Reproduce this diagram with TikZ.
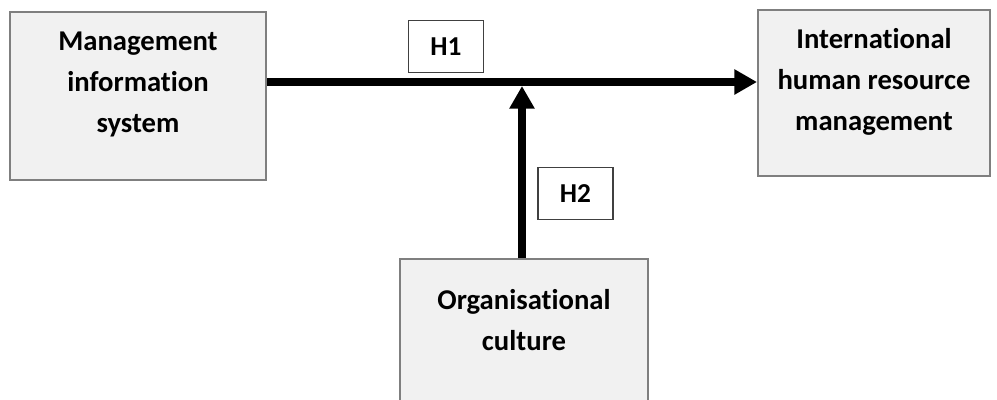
\documentclass[tikz,border=0pt]{standalone}
\usepackage{fontspec}
\setmainfont{Carlito}[Ligatures=NoCommon]
\usepackage{xcolor}
\usetikzlibrary{positioning,arrows.meta}

\definecolor{boxfill}{HTML}{F1F1F1}
\definecolor{boxline}{HTML}{7F7F7F}
\definecolor{hypline}{HTML}{404040}

\begin{document}
\begin{tikzpicture}[x=0.75pt,y=-0.75pt,
  varbox/.style={draw=boxline,line width=1.5pt,fill=boxfill,inner sep=0pt},
  vartext/.style={align=center,inner sep=0pt,font=\fontsize{21.5}{30.75}\selectfont\bfseries},
  hypbox/.style={draw=hypline,line width=1.1pt,fill=white,inner sep=0pt,
    minimum width=56pt,minimum height=39pt,font=\fontsize{20.5}{24}\selectfont\bfseries},
  link/.style={line width=6pt,-{Triangle[length=17pt,width=18pt]}}]
\useasboundingbox (0,0) rectangle (997,400);
% variables
\node [varbox,minimum width=192pt,minimum height=126pt] (mis) at (138,96) {};
\node [varbox,minimum width=174pt,minimum height=124.5pt] (ihrm) at (874,93) {};
\node [varbox,minimum width=186pt,minimum height=107.25pt] (org) at (524,330.5) {};
\node [vartext] (mistext) at (138,84) {Management\\information\\system};
\node [vartext] (ihrmtext) at (874,82) {International\\human resource\\management};
\node [vartext] (orgtext) at (524,320) {Organisational\\culture};
% hypotheses
\node [hypbox] (h1) at (446,46.75) {H1};
\node [hypbox] (h2) at (575.5,193.5) {H2};
% paths
\coordinate (hub) at (522,82);
\draw [link] (mis.east |- hub) -- (ihrm.west |- hub);
\draw [link] (org.north -| hub) -- ([yshift=-3pt]hub);
\end{tikzpicture}
\end{document}
